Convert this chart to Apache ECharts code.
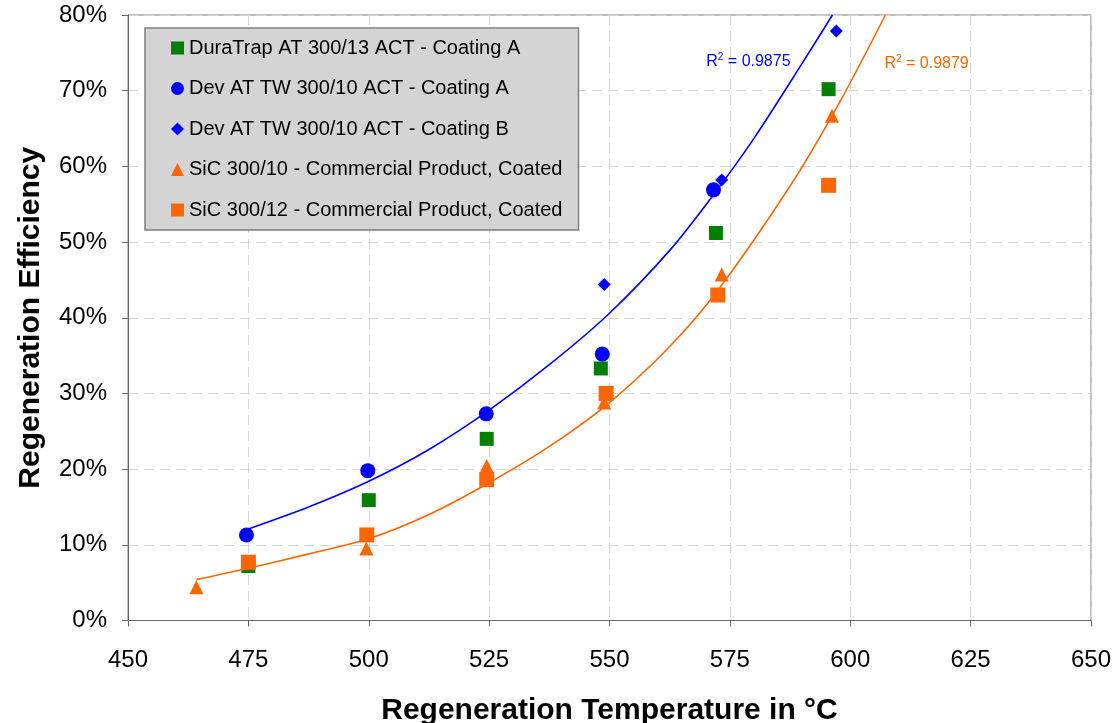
<!DOCTYPE html>
<html>
<head>
<meta charset="utf-8">
<script src="https://cdn.jsdelivr.net/npm/echarts/dist/echarts.min.js"></script>
<style>
html,body{margin:0;padding:0;background:#fff;}
#chart{width:1115px;height:723px;}
</style>
</head>
<body>
<div id="chart"></div>
<script>
// ---- data ----
const xTicks = [450, 475, 500, 525, 550, 575, 600, 625, 650];
const yTicks = [0, 10, 20, 30, 40, 50, 60, 70, 80];

const seriesNames = [
  'DuraTrap AT 300/13 ACT - Coating A',
  'Dev AT TW 300/10 ACT - Coating A',
  'Dev AT TW 300/10 ACT - Coating B',
  'SiC 300/10 - Commercial Product, Coated',
  'SiC 300/12 - Commercial Product, Coated'
];

const duraTrapA = [[475, 7.2], [500, 15.9], [524.5, 24.0], [548.2, 33.3], [572.1, 51.2], [595.5, 70.2]];
const devTwA    = [[474.6, 11.3], [499.8, 19.8], [524.4, 27.3], [548.5, 35.2], [571.6, 56.9]];
const devTwB    = [[548.9, 44.4], [573.3, 58.2], [597.1, 77.9]];
const sic10     = [[464.2, 4.4], [499.5, 9.5], [524.5, 20.4], [548.9, 28.8], [573.3, 45.7], [596.2, 66.7]];
const sic12     = [[475, 7.7], [499.6, 11.3], [524.5, 18.6], [549.3, 30.0], [572.5, 43.0], [595.5, 57.5]];

// trend lines, points
const blueTrend   = [[475, 12.1], [487.5, 15.0], [500, 18.4], [512.5, 22.6], [525, 27.8], [537.5, 33.8], [550, 40.6], [562.5, 48.9], [572, 56.6], [580, 63.7], [590, 73.6], [596.3, 80.0]];
const orangeTrend = [[464.2, 5.4], [475, 6.9], [487.5, 8.8], [500, 10.8], [512.5, 14.0], [525, 18.2], [537.5, 23.0], [550, 28.8], [562.5, 36.2], [572.7, 43.8], [587.5, 57.4], [597.9, 68.6], [607.3, 80.0]];

const r2Labels = [
  { text: '0.9875', at: [570.1, 73.9], color: '#0000ff' },
  { text: '0.9879', at: [607.1, 73.6], color: '#ff6600' }
];

// ---- chart ----
const FONT = "'Liberation Sans', Arial, sans-serif";
const chart = echarts.init(document.getElementById('chart'), null, { renderer: 'canvas' });

const option = {
  animation: false,
  backgroundColor: '#ffffff',
  grid: {
    left: 128, right: 24, top: 15, bottom: 102.5,
    containLabel: false, outerBoundsMode: 'none',
    show: true, borderColor: '#808080', borderWidth: 1, backgroundColor: 'transparent'
  },
  legend: {
    data: seriesNames,
    orient: 'vertical',
    left: 145, top: 28,
    padding: [10, 16, 10, 26],
    itemGap: 20.5,
    itemWidth: 13, itemHeight: 13,
    backgroundColor: '#d4d4d4',
    borderColor: '#7f7f7f', borderWidth: 1.5,
    textStyle: { fontFamily: FONT, fontSize: 20, color: '#000', lineHeight: 20 }
  },
  xAxis: {
    type: 'value', min: xTicks[0], max: xTicks[xTicks.length - 1], interval: 25,
    name: 'Regeneration Temperature in °C', nameLocation: 'middle', nameGap: 75,
    nameTextStyle: { fontFamily: FONT, fontSize: 30, fontWeight: 'bold', color: '#000' },
    axisLine: { show: true, onZero: false, lineStyle: { color: '#666', width: 1 } },
    axisTick: { show: true, inside: false, length: 6, lineStyle: { color: '#666' } },
    axisLabel: { fontFamily: FONT, fontSize: 24, color: '#000', margin: 28 },
    splitLine: { show: true, lineStyle: { color: '#d4d4d4', type: [10, 6], width: 1 } }
  },
  yAxis: {
    type: 'value', min: yTicks[0], max: yTicks[yTicks.length - 1], interval: 10,
    name: 'Regeneration Efficiency', nameLocation: 'middle', nameGap: 82, nameRotate: 90,
    nameTextStyle: { fontFamily: FONT, fontSize: 30, fontWeight: 'bold', color: '#000' },
    axisLine: { show: true, onZero: false, lineStyle: { color: '#666', width: 1 } },
    axisTick: { show: true, inside: false, length: 6, lineStyle: { color: '#666' } },
    axisLabel: { fontFamily: FONT, fontSize: 24, color: '#000', margin: 21, formatter: '{value}%' },
    splitLine: { show: true, lineStyle: { color: '#d4d4d4', type: [10, 6], width: 1 } }
  },
  series: [
    { name: seriesNames[0], type: 'scatter', data: duraTrapA, symbol: 'rect', symbolSize: 14,
      itemStyle: { color: '#008000', opacity: 1 }, z: 2 },
    { name: seriesNames[1], type: 'scatter', data: devTwA, symbol: 'circle', symbolSize: 15,
      itemStyle: { color: '#0000ff', opacity: 1 }, z: 3 },
    { name: seriesNames[2], type: 'scatter', data: devTwB, symbol: 'diamond', symbolSize: 13,
      itemStyle: { color: '#0000ff', opacity: 1 }, z: 4 },
    { name: seriesNames[3], type: 'scatter', data: sic10, symbol: 'triangle', symbolSize: 14,
      itemStyle: { color: '#ff6600', opacity: 1 }, z: 5 },
    { name: seriesNames[4], type: 'scatter', data: sic12, symbol: 'rect', symbolSize: 15,
      itemStyle: { color: '#ff6600', opacity: 1 }, z: 6 },
    { name: 'trendBlue', type: 'line', data: blueTrend, smooth: 0.3, symbol: 'none', silent: true,
      lineStyle: { color: '#0000ff', width: 1.6 }, z: 8 },
    { name: 'trendOrange', type: 'line', data: orangeTrend, smooth: 0.3, symbol: 'none', silent: true,
      lineStyle: { color: '#ff6600', width: 1.6 }, z: 8 }
  ]
};
chart.setOption(option);

const graphics = r2Labels.map(function (l) {
  const p = chart.convertToPixel({ gridIndex: 0 }, l.at);
  return {
    type: 'text', x: p[0], y: p[1], z: 20, silent: true,
    style: {
      text: '{a|R}{s|2}{a| = ' + l.text + '}',
      fill: l.color,
      verticalAlign: 'middle',
      align: 'left',
      rich: {
        a: { fontFamily: FONT, fontSize: 16, color: l.color, lineHeight: 18 },
        s: { fontFamily: FONT, fontSize: 10, color: l.color, lineHeight: 18, verticalAlign: 'top' }
      }
    }
  };
});
chart.setOption({ graphic: graphics });
</script>
</body>
</html>
